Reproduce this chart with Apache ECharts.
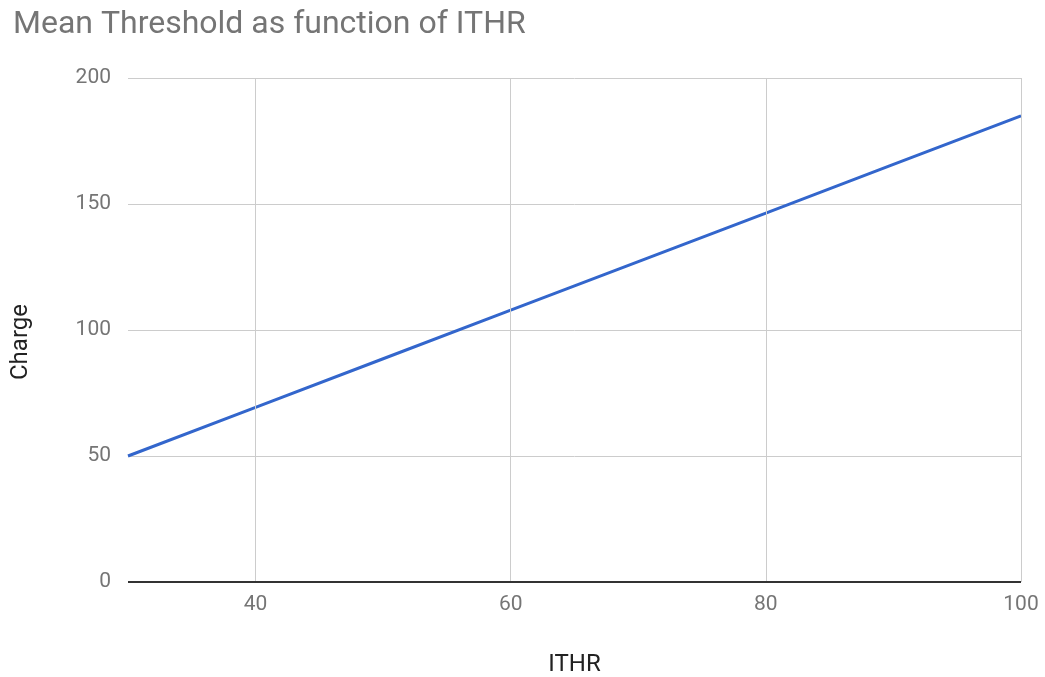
<!DOCTYPE html>
<html>
<head>
<meta charset="utf-8">
<script src="https://cdn.jsdelivr.net/npm/echarts@6/dist/echarts.min.js"></script>
<style>
  html, body { margin: 0; padding: 0; background: #fff; }
  #chart { width: 1045px; height: 677px; }
</style>
</head>
<body>
<div id="chart"></div>
<script>
// ITHR setting vs. mean threshold charge
const ithr = [30, 40, 50, 60, 70, 80, 90, 100];
const meanCharge = [50, 69.3, 88.6, 107.9, 127.1, 146.4, 165.7, 185];
const yTicks = [0, 50, 100, 150, 200];
const xTicks = [40, 60, 80, 100];

const chart = echarts.init(document.getElementById('chart'), null, { renderer: 'canvas' });
const font = 'Roboto, "Noto Sans", sans-serif';

chart.setOption({
  animation: false,
  title: {
    text: 'Mean Threshold as function of ITHR',
    left: 8,
    top: 4,
    textStyle: { fontFamily: font, fontSize: 32, fontWeight: 'normal', color: '#757575' }
  },
  grid: { left: 128, right: 24, top: 78, bottom: 95, containLabel: false, outerBoundsMode: 'none' },
  xAxis: {
    type: 'value',
    min: 30,
    max: 100,
    interval: 10,
    name: 'ITHR',
    nameLocation: 'middle',
    nameGap: 71,
    nameTextStyle: { fontFamily: font, fontSize: 24, color: '#222' },
    axisLine: { show: false },
    axisTick: { show: false },
    axisLabel: {
      fontFamily: font, fontSize: 21, color: '#757575', margin: 12,
      formatter: v => xTicks.includes(v) ? String(v) : ''
    },
    splitLine: { show: false }
  },
  yAxis: {
    type: 'value',
    min: 0,
    max: 200,
    interval: 50,
    name: 'Charge',
    nameLocation: 'middle',
    nameGap: 95,
    nameRotate: 90,
    nameTextStyle: { fontFamily: font, fontSize: 24, color: '#222', padding: [0, 24, 0, 0] },
    axisLine: { show: false },
    axisTick: { show: false },
    axisLabel: {
      fontFamily: font, fontSize: 21, color: '#757575', margin: 17,
      formatter: v => yTicks.includes(v) ? String(v) : ''
    },
    splitLine: { show: true, lineStyle: { color: '#cccccc', width: 1 } }
  },
  series: [
    {
      // vertical gridlines at the labelled ITHR values
      type: 'line',
      data: [],
      z: 1,
      markLine: {
        silent: true,
        symbol: 'none',
        label: { show: false },
        lineStyle: { color: '#cccccc', width: 1, type: 'solid' },
        data: xTicks.map(v => ({ xAxis: v }))
      }
    },
    {
      type: 'line',
      z: 3,
      data: ithr.map((x, i) => [x, meanCharge[i]]),
      showSymbol: false,
      symbol: 'none',
      lineStyle: { color: '#3366cc', width: 3 }
    },
    {
      // baseline at zero charge
      type: 'line',
      data: [],
      z: 2,
      markLine: {
        silent: true,
        symbol: 'none',
        label: { show: false },
        lineStyle: { color: '#333333', width: 2, type: 'solid' },
        data: [{ yAxis: 0 }]
      }
    }
  ]
});
</script>
</body>
</html>
